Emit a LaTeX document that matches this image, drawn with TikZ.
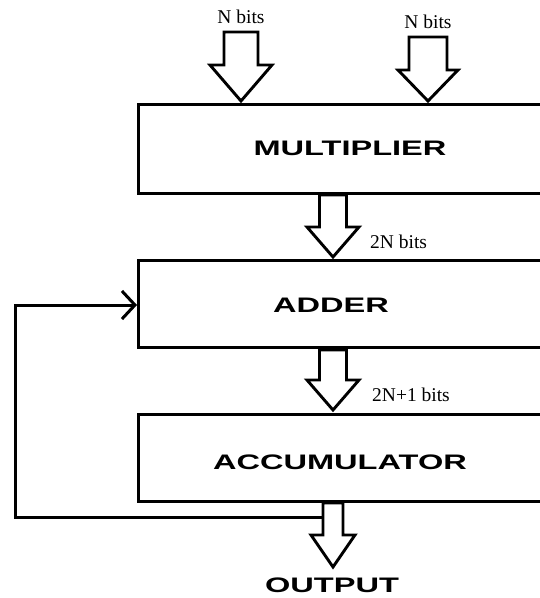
\documentclass[tikz,border=0pt]{standalone}
\usepackage{fontspec}
\setmainfont{Liberation Serif}
\newfontfamily\widefont[FakeStretch=1.55]{Liberation Sans}
\usetikzlibrary{arrows.meta}
\newcommand\blockarr[6]{% x, tip y, top y, shaft half, head half, head length
  \draw[barrow] (#1-#4,#3) -- (#1+#4,#3) -- (#1+#4,#2-#6) -- (#1+#5,#2-#6) -- (#1,#2)
    -- (#1-#5,#2-#6) -- (#1-#4,#2-#6) -- cycle;}
\tikzset{
  barrow/.style={line width=2.9pt, line join=miter, fill=white},
  blk/.style={draw, line width=3pt, rectangle, minimum width=430pt, anchor=north west, inner sep=0pt},
  blabel/.style={font=\widefont\bfseries\fontsize{21}{21}\selectfont},
  bits/.style={font=\fontsize{19.5}{19.5}\selectfont, inner sep=0pt},
  fb/.style={line width=3pt, -{Straight Barb[length=13pt,width=28pt,line width=3pt]}}
}
\begin{document}
\begin{tikzpicture}[x=1pt,y=-1pt]
\useasboundingbox (0,0) rectangle (540,598);
\clip (0,0) rectangle (540,598);
\node[blk, minimum height=89pt] (mult) at (137,103) {};
\node[blk, minimum height=87pt] (add) at (137,259) {};
\node[blk, minimum height=87pt] (acc) at (137,413) {};
\node[blabel] (multt) at (350,148) {MULTIPLIER};
\node[blabel] (addt) at (331,305) {ADDER};
\node[blabel] (acct) at (340,462) {ACCUMULATOR};
\blockarr{241}{101}{32}{17}{31}{36}
\blockarr{428}{101}{37}{19}{30}{31}
\blockarr{333}{257}{195}{13.5}{26}{30}
\blockarr{333}{410}{350}{13.5}{26}{30}
\node[bits] (n1) at (241,17) {N bits};
\node[bits] (n2) at (428,22) {N bits};
\node[bits, anchor=west] (n3) at (370,242) {2N bits};
\node[bits, anchor=west] (n4) at (372,395) {2N+1 bits};
\coordinate (fbstart) at (325,517);
\draw[fb] (fbstart) -- (15,517) -- (15,305) -- (add.west |- 0,305);
\blockarr{333}{567}{503}{10}{22}{32}
\node[blabel] (out) at (332,585) {OUTPUT};
\end{tikzpicture}
\end{document}
